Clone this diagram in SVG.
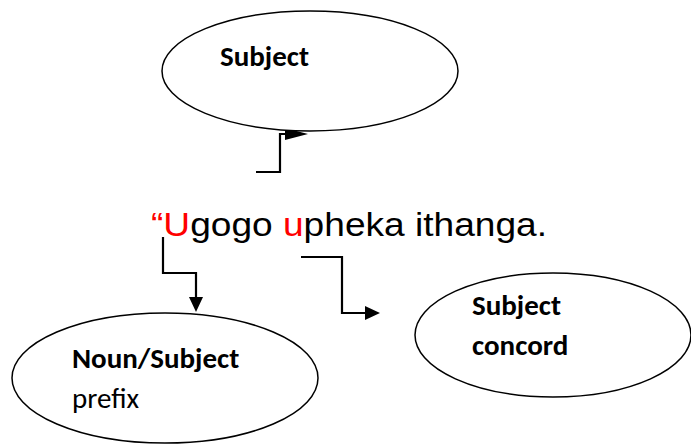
<svg xmlns="http://www.w3.org/2000/svg" width="691" height="444" viewBox="0 0 691 444">
<style>
.ell{fill:#fff;stroke:#000;stroke-width:1.5}
.lbl{font-family:Carlito,Lato,"Open Sans",sans-serif;font-size:29px;fill:#000}
.b{font-weight:bold}
.con{fill:none;stroke:#000;stroke-width:2.2}
.sent{font-family:"Liberation Sans",Arial,sans-serif;font-size:34px;fill:#000}
.red{fill:#ff0000}
</style>
<rect width="691" height="444" fill="#fff"/>
<g id="connectors">
<path class="con" d="M256 172 H280 V134 H292"/>
<polygon points="285,128 308,134 285,140"/>
<path class="con" d="M163 237 V273 H196 V298"/>
<polygon points="189,297 203,297 196,312"/>
<path class="con" d="M301 257 H342 V313 H366"/>
<polygon points="365,306 380,313 365,320"/>
</g>
<g id="subject">
<ellipse class="ell" cx="310" cy="71" rx="148" ry="60"/>
<text class="lbl b" x="220" y="66">Subject</text>
</g>
<g id="sentence">
<text class="sent" x="151" y="236" textLength="396" lengthAdjust="spacingAndGlyphs"><tspan class="red">“U</tspan>gogo <tspan class="red">u</tspan>pheka ithanga.</text>
</g>
<g id="noun-subject-prefix">
<ellipse class="ell" cx="165" cy="378" rx="153" ry="65"/>
<text class="lbl b" x="72" y="368">Noun/Subject</text>
<text class="lbl" x="72" y="408">prefix</text>
</g>
<g id="subject-concord">
<ellipse class="ell" cx="553" cy="335" rx="138" ry="62"/>
<text class="lbl b" x="472" y="315">Subject</text>
<text class="lbl b" x="472" y="355">concord</text>
</g>
</svg>
